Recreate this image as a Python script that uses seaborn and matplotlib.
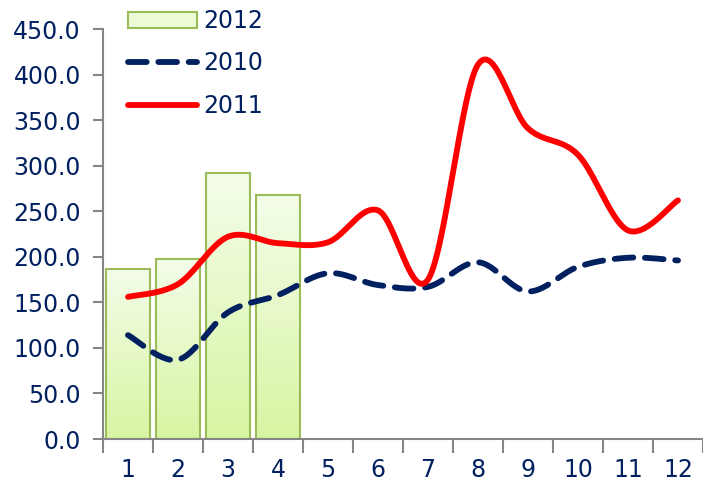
import numpy as np
import pandas as pd
import matplotlib
matplotlib.use('Agg')
import matplotlib.pyplot as plt
import seaborn as sns
from matplotlib.lines import Line2D
from matplotlib.patches import Patch

# Data
months = ['1', '2', '3', '4', '5', '6', '7', '8', '9', '10', '11', '12']
sales_2012 = [187, 198, 292, 268]
sales_2010 = [114, 87, 139, 158, 182, 169, 167, 194, 162, 189, 199, 196]
sales_2011 = [156, 170, 222, 215, 216, 251, 175, 411, 341, 312, 229, 262]

navy = '#002060'
axis_grey = '#868686'


def smooth(y, n=30):
    # Excel-like smoothed line: Catmull-Rom bezier segments through the points
    x = np.arange(len(y), dtype=float)
    y = np.asarray(y, dtype=float)
    px = np.concatenate([[x[0]], x, [x[-1]]])
    py = np.concatenate([[y[0]], y, [y[-1]]])
    xs, ys = [], []
    t = np.linspace(0, 1, n)
    for i in range(len(x) - 1):
        p0 = np.array([px[i + 1], py[i + 1]])
        p3 = np.array([px[i + 2], py[i + 2]])
        c1 = p0 + (np.array([px[i + 2], py[i + 2]]) - np.array([px[i], py[i]])) / 6
        c2 = p3 - (np.array([px[i + 3], py[i + 3]]) - np.array([px[i + 1], py[i + 1]])) / 6
        b = ((1 - t) ** 3)[:, None] * p0 + (3 * (1 - t) ** 2 * t)[:, None] * c1 \
            + (3 * (1 - t) * t ** 2)[:, None] * c2 + (t ** 3)[:, None] * p3
        xs.append(b[:, 0])
        ys.append(b[:, 1])
    return np.concatenate(xs), np.concatenate(ys)


sns.set_style('white')
plt.rcParams['font.family'] = ['DejaVu Sans']

fig = plt.figure(figsize=(7.03, 4.88), dpi=100)
ax = fig.add_axes([0.1465, 0.1004, 0.8535, 0.840])

df_bar = pd.DataFrame({'month': months, 'value': sales_2012 + [np.nan] * 8})
sns.barplot(data=df_bar, x='month', y='value', order=months, width=0.88,
            color='#e2f7c0', edgecolor='#9bbb59', linewidth=1.5, ax=ax,
            saturation=1, zorder=2)

# gradient fill in each bar
grad = np.linspace(0, 1, 256).reshape(-1, 1)
cmap = matplotlib.colors.LinearSegmentedColormap.from_list('g', ['#d8f5a2', '#f4fdea'])
for bar in ax.patches:
    h = bar.get_height()
    if not np.isfinite(h) or h <= 0:
        continue
    x0 = bar.get_x()
    w = bar.get_width()
    im = ax.imshow(grad, extent=[x0, x0 + w, 0, h], origin='lower', cmap=cmap,
                   aspect='auto', zorder=2.1)
    im.set_clip_path(bar)
    bar.set_facecolor('none')
    bar.set_zorder(2.2)

x10, y10 = smooth(sales_2010)
x11, y11 = smooth(sales_2011)
sns.lineplot(x=x10, y=y10, sort=False, estimator=None, color=navy, lw=4.2,
             ax=ax, zorder=3, dashes=False)
ax.lines[-1].set_dashes([3.2, 2.0])
ax.lines[-1].set_dash_capstyle('round')
sns.lineplot(x=x11, y=y11, sort=False, estimator=None, color='#ff0000', lw=4.2,
             ax=ax, zorder=4)
ax.lines[-1].set_solid_capstyle('round')

ax.set_xlim(-0.5, 11.5)
ax.set_ylim(0, 450)
ax.set_yticks(np.arange(0, 451, 50))
ax.set_yticklabels([f'{v:.1f}' for v in np.arange(0, 451, 50)])
ax.set_xticks(range(12))
ax.set_xticklabels(months)
ax.set_xticks(np.arange(-0.5, 12, 1), minor=True)
ax.set_xlabel('')
ax.set_ylabel('')

for s in ['top', 'right']:
    ax.spines[s].set_visible(False)
for s in ['left', 'bottom']:
    ax.spines[s].set_color(axis_grey)
    ax.spines[s].set_linewidth(1.5)

ax.tick_params(axis='y', which='major', length=7, width=1.5, color=axis_grey,
               labelsize=17, labelcolor=navy, pad=9, left=True)
ax.tick_params(axis='x', which='major', length=0, labelsize=17, labelcolor=navy, pad=14)
ax.tick_params(axis='x', which='minor', length=10, width=1.5, color=axis_grey, bottom=True)

handles = [
    Patch(facecolor='#eafbd6', edgecolor='#9bbb59', linewidth=1.5),
    Line2D([], [], color=navy, lw=4.2, dashes=[3.2, 2.0], dash_capstyle='round'),
    Line2D([], [], color='#ff0000', lw=4.2, solid_capstyle='round'),
]
leg = fig.legend(handles, ['2012', '2010', '2011'], loc='upper left',
                 bbox_to_anchor=(0.152, 1.025), frameon=False, fontsize=17,
                 handlelength=2.9, handleheight=0.7, labelspacing=0.78,
                 handletextpad=0.3, labelcolor=navy)

fig.savefig('out.png', dpi=100)
